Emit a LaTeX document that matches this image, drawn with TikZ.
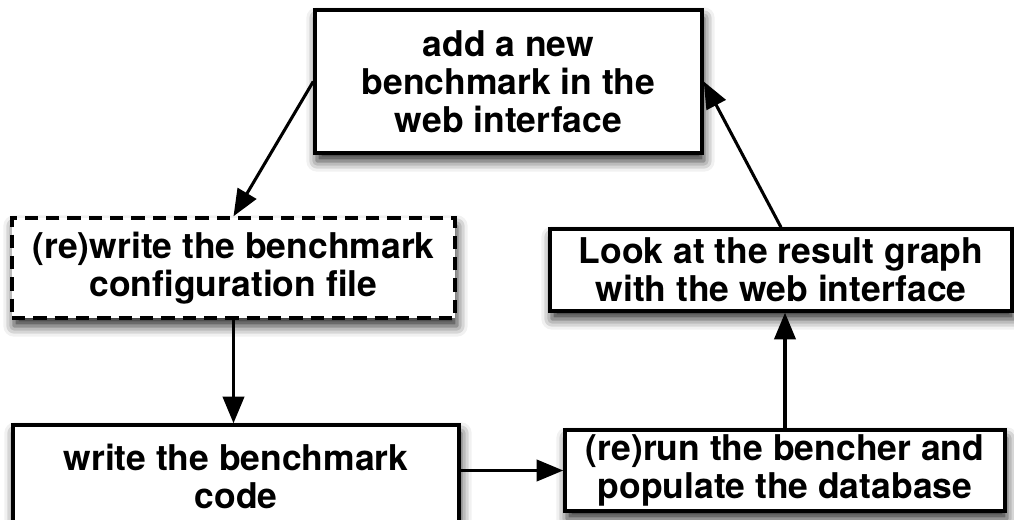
\documentclass[tikz,border=0pt]{standalone}
\usepackage{fontspec}
\setmainfont{TeX Gyre Heros}
\usetikzlibrary{arrows.meta,shadows.blur}
\begin{document}
\begin{tikzpicture}[x=0.75pt,y=-0.75pt,
  box/.style 2 args={draw=black,fill=white,line width=2.6pt,align=center,
    inner sep=0pt,minimum width=#1*0.75pt,minimum height=#2*0.75pt,
    font=\fontsize{26.6}{28.5}\selectfont\bfseries,
    blur shadow={shadow xshift=1.5pt,shadow yshift=-6pt,shadow blur radius=8pt,shadow opacity=85}},
  dashbox/.style={dash pattern=on 10pt off 6pt},
  arr/.style={line width=2.3pt,-{Triangle[length=20pt,width=16pt]}}]
\useasboundingbox (0,0) rectangle (1014,520);
\node[box={387}{143}] (top) at (508.5,81.5) {add a new\\benchmark in the\\web interface};
\node[box={443}{100},dashbox] (config) at (233.5,268) {(re)write the benchmark\\configuration file};
\node[box={446}{102}] (code) at (236,476) {write the benchmark\\code};
\node[box={440}{81}] (rerun) at (785,470.5) {(re)run the bencher and\\populate the database};
\node[box={462}{82}] (look) at (781,270) {Look at the result graph\\with the web interface};
\draw[arr] (top.west) -- (config.north);
\draw[arr] (config.south) -- (config.south |- code.north);
\draw[arr] (code.east |- rerun.west) -- (rerun.west);
\draw[arr] (rerun.north) -- (rerun.north |- look.south);
\draw[arr] (look.north) -- (top.east);
\end{tikzpicture}
\end{document}
